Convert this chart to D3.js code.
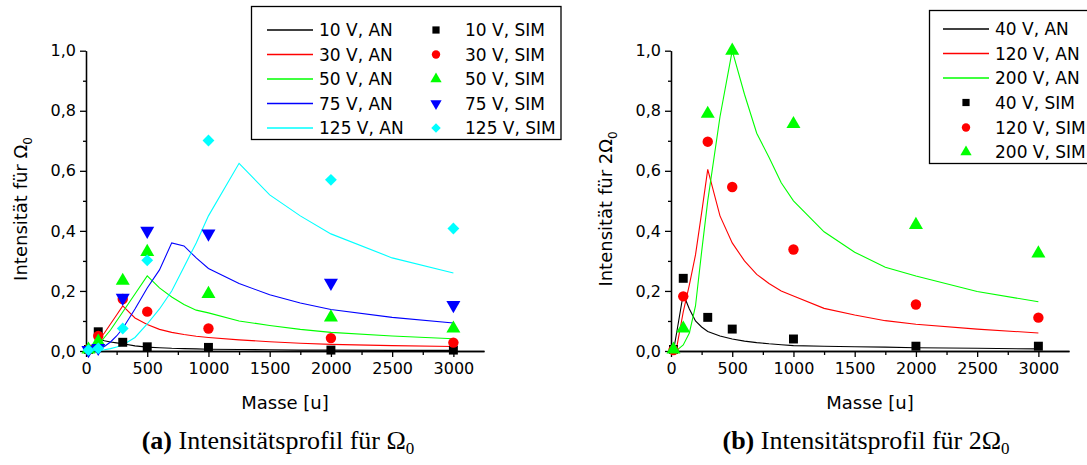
<!DOCTYPE html>
<html>
<head>
<meta charset="utf-8">
<script src="https://cdn.jsdelivr.net/npm/d3@7"></script>
<style>
  body { margin: 0; background: #fff; }
  svg text { font-family: "DejaVu Sans", Verdana, sans-serif; fill: #000; }
  text.caption { font-family: "Liberation Serif", "DejaVu Serif", serif; }
</style>
</head>
<body>
<svg id="fig" width="1087" height="465"></svg>
<script>
// ---- data, panel (a): intensity for Omega_0 ----
const massAN = [20, 50, 100, 150, 200, 250, 300, 400, 500, 600, 700, 800, 900, 1000, 1250, 1500, 1750, 2000, 2500, 3000];
const an10  = [0, 0.015, 0.04, 0.034, 0.03, 0.027, 0.024, 0.017, 0.013, 0.011, 0.009, 0.008, 0.007, 0.006, 0.005, 0.004, 0.003, 0.003, 0.002, 0.002];
const an30  = [0, 0.006, 0.035, 0.06, 0.09, 0.12, 0.15, 0.11, 0.088, 0.072, 0.062, 0.055, 0.049, 0.045, 0.037, 0.031, 0.026, 0.022, 0.018, 0.015];
const an50  = [0, 0.003, 0.018, 0.045, 0.07, 0.1, 0.13, 0.19, 0.25, 0.21, 0.18, 0.155, 0.136, 0.127, 0.1, 0.085, 0.072, 0.062, 0.05, 0.041];
const an75  = [0, 0.001, 0.005, 0.015, 0.03, 0.05, 0.075, 0.14, 0.21, 0.27, 0.36, 0.35, 0.31, 0.275, 0.225, 0.187, 0.16, 0.138, 0.112, 0.093];
const an125 = [0, 0, 0.002, 0.004, 0.008, 0.013, 0.02, 0.045, 0.09, 0.14, 0.2, 0.28, 0.36, 0.45, 0.625, 0.52, 0.45, 0.39, 0.31, 0.26];

const massSIM = [20, 100, 300, 500, 1000, 2000, 3000];
const sim10  = [0.005, 0.064, 0.029, 0.014, 0.012, 0.003, 0.003];
const sim30  = [0.005, 0.05, 0.173, 0.131, 0.075, 0.043, 0.028];
const sim50  = [0.005, 0.031, 0.234, 0.33, 0.19, 0.112, 0.075];
const sim75  = [0.003, 0.01, 0.177, 0.40, 0.391, 0.227, 0.153];
const sim125 = [0.003, 0.009, 0.075, 0.302, 0.701, 0.570, 0.408];

// ---- data, panel (b): intensity for 2*Omega_0 ----
const an40  = [0, 0.07, 0.19, 0.14, 0.1, 0.08, 0.065, 0.05, 0.04, 0.033, 0.028, 0.024, 0.021, 0.018, 0.016, 0.014, 0.013, 0.011, 0.009, 0.007];
const an120 = [0, 0.02, 0.13, 0.22, 0.32, 0.46, 0.605, 0.45, 0.36, 0.3, 0.255, 0.225, 0.2, 0.183, 0.142, 0.12, 0.101, 0.089, 0.073, 0.06];
const an200 = [0, 0.003, 0.02, 0.06, 0.15, 0.33, 0.5, 0.78, 1.0, 0.855, 0.725, 0.645, 0.56, 0.5, 0.397, 0.329, 0.279, 0.25, 0.198, 0.164];

const sim40  = [0.005, 0.242, 0.112, 0.073, 0.04, 0.016, 0.016];
const sim120 = [0.003, 0.182, 0.697, 0.546, 0.338, 0.155, 0.111];
const sim200 = [0.005, 0.075, 0.79, 1.0, 0.756, 0.42, 0.325];

const xTicks = [0, 500, 1000, 1500, 2000, 2500, 3000];
const yTicks = [0, 0.2, 0.4, 0.6, 0.8, 1.0];

const svg = d3.select('#fig');
const fmtY = v => d3.format('.1f')(v).replace('.', ',');

// marker shapes (Origin style)
const shapes = {
  square:   { type: d3.symbolSquare,   size: 80, rot: 0 },
  circle:   { type: d3.symbolCircle,   size: 85, rot: 0 },
  up:       { type: d3.symbolTriangle, size: 85, rot: 0 },
  down:     { type: d3.symbolTriangle, size: 85, rot: 180 },
  diamond:  { type: d3.symbolSquare,   size: 70, rot: 45 }
};

function marker(g, shape, color, x, y, scale) {
  const s = shapes[shape];
  g.append('path')
    .attr('d', d3.symbol().type(s.type).size(s.size * (scale || 1))())
    .attr('transform', `translate(${x},${y}) rotate(${s.rot})`)
    .attr('fill', color);
}

function panel(p) {
  const x = d3.scaleLinear().domain([0, 3250]).range([p.left, p.left + 398]);
  const y = d3.scaleLinear().domain([0, 1]).range([351, 50.7]);
  const g = svg.append('g');

  // minor ticks
  g.append('g').attr('transform', 'translate(0,351)')
    .call(d3.axisBottom(x).tickValues(d3.range(250, 3250, 500)).tickSize(4).tickSizeOuter(0).tickFormat(''));
  g.append('g').attr('transform', `translate(${p.left},0)`)
    .call(d3.axisLeft(y).tickValues([0.1, 0.3, 0.5, 0.7, 0.9]).tickSize(3).tickSizeOuter(0).tickFormat(''));

  // major axes
  g.append('g').attr('transform', 'translate(0,351)')
    .call(d3.axisBottom(x).tickValues(xTicks).tickSize(6).tickSizeOuter(0).tickPadding(6).tickFormat(d3.format('d')));
  g.append('g').attr('transform', `translate(${p.left},0)`)
    .call(d3.axisLeft(y).tickValues(yTicks).tickSize(6).tickSizeOuter(0).tickPadding(4).tickFormat(fmtY));
  g.selectAll('.domain, .tick line').attr('stroke', '#000').attr('stroke-width', 1.3);
  g.selectAll('.tick text').attr('font-size', 16);

  // model lines
  const line = d3.line().x(d => x(d[0])).y(d => y(d[1]));
  p.lines.forEach(s => {
    g.append('path')
      .datum(massAN.map((m, i) => [m, s.values[i]]))
      .attr('d', line)
      .attr('fill', 'none')
      .attr('stroke', s.color)
      .attr('stroke-width', 1.1);
  });

  // simulation markers
  p.points.forEach(s => {
    massSIM.forEach((m, i) => marker(g, s.shape, s.color, x(m), y(s.values[i])));
  });

  // axis titles
  g.append('text')
    .attr('x', (x.range()[0] + x.range()[1]) / 2).attr('y', 409)
    .attr('text-anchor', 'middle').attr('font-size', 18)
    .text('Masse [u]');

  const yt = g.append('text')
    .attr('transform', `translate(${p.titleX},209) rotate(-90)`)
    .attr('text-anchor', 'middle').attr('font-size', 18);
  yt.append('tspan').text(p.yTitle);
  yt.append('tspan').attr('font-size', 12).attr('dy', 5).text('0');

  // caption
  const cap = g.append('text').attr('class', 'caption')
    .attr('x', p.capX).attr('y', 449)
    .attr('text-anchor', 'middle').attr('font-size', 26);
  cap.append('tspan').attr('font-weight', 'bold').text(p.capTag);
  cap.append('tspan').text(' ' + p.capText);
  cap.append('tspan').attr('font-size', 17).attr('dy', 5).text('0');

  // legend
  const lg = g.append('g');
  lg.append('rect')
    .attr('x', p.legend.x).attr('y', p.legend.y)
    .attr('width', p.legend.w).attr('height', p.legend.h)
    .attr('fill', '#fff').attr('stroke', '#000').attr('stroke-width', 1.3);
  p.legend.items.forEach(it => {
    if (it.kind === 'line') {
      lg.append('line')
        .attr('x1', it.x).attr('x2', it.x + 46)
        .attr('y1', it.y).attr('y2', it.y)
        .attr('stroke', it.color).attr('stroke-width', 1.3);
    } else {
      marker(lg, it.shape, it.color, it.x + 23, it.y, 0.65);
    }
    lg.append('text').attr('x', it.x + 52).attr('y', it.y).attr('dy', '0.36em')
      .attr('font-size', 17).text(it.label);
  });
}

// panel (a)
const linesA = [
  { values: an10,  color: '#000000', label: '10 V, AN' },
  { values: an30,  color: '#ff0000', label: '30 V, AN' },
  { values: an50,  color: '#00ff00', label: '50 V, AN' },
  { values: an75,  color: '#0000ff', label: '75 V, AN' },
  { values: an125, color: '#00ffff', label: '125 V, AN' }
];
const pointsA = [
  { values: sim10,  color: '#000000', shape: 'square',  label: '10 V, SIM' },
  { values: sim30,  color: '#ff0000', shape: 'circle',  label: '30 V, SIM' },
  { values: sim50,  color: '#00ff00', shape: 'up',      label: '50 V, SIM' },
  { values: sim75,  color: '#0000ff', shape: 'down',    label: '75 V, SIM' },
  { values: sim125, color: '#00ffff', shape: 'diamond', label: '125 V, SIM' }
];
const rowsA = [30, 54.5, 79, 103.5, 128];
panel({
  left: 86, titleX: 27, capX: 278,
  yTitle: 'Intensität für Ω', capTag: '(a)', capText: 'Intensitätsprofil für Ω',
  lines: linesA, points: pointsA,
  legend: {
    x: 251.5, y: 6.5, w: 309.5, h: 133,
    items: linesA.map((s, i) => ({ kind: 'line', color: s.color, label: s.label, x: 267, y: rowsA[i] }))
      .concat(pointsA.map((s, i) => ({ kind: 'sym', shape: s.shape, color: s.color, label: s.label, x: 413, y: rowsA[i] })))
  }
});

// panel (b)
const linesB = [
  { values: an40,  color: '#000000', label: '40 V, AN' },
  { values: an120, color: '#ff0000', label: '120 V, AN' },
  { values: an200, color: '#00ff00', label: '200 V, AN' }
];
const pointsB = [
  { values: sim40,  color: '#000000', shape: 'square', label: '40 V, SIM' },
  { values: sim120, color: '#ff0000', shape: 'circle', label: '120 V, SIM' },
  { values: sim200, color: '#00ff00', shape: 'up',     label: '200 V, SIM' }
];
const rowsB = [29, 53.5, 78, 102.5, 127.5, 152];
panel({
  left: 671, titleX: 612, capX: 866,
  yTitle: 'Intensität für 2Ω', capTag: '(b)', capText: 'Intensitätsprofil für 2Ω',
  lines: linesB, points: pointsB,
  legend: {
    x: 929.5, y: 10.5, w: 170, h: 153,
    items: linesB.map((s, i) => ({ kind: 'line', color: s.color, label: s.label, x: 943, y: rowsB[i] }))
      .concat(pointsB.map((s, i) => ({ kind: 'sym', shape: s.shape, color: s.color, label: s.label, x: 943, y: rowsB[i + 3] })))
  }
});
</script>
</body>
</html>
